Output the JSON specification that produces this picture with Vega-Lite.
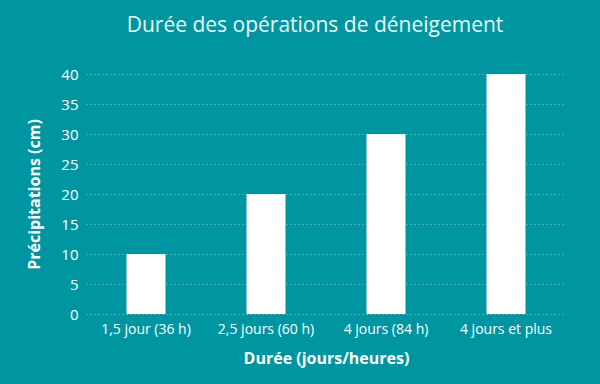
{
  "$schema": "https://vega.github.io/schema/vega-lite/v6.json",
  "width": 480,
  "height": 240,
  "autosize": {"type": "none"},
  "padding": {"left": 86, "top": 74, "right": 34, "bottom": 70},
  "background": "#0096A1",
  "title": {
    "text": "Durée des opérations de déneigement",
    "color": "#EAF6F7",
    "font": "Open Sans",
    "fontSize": 21,
    "fontWeight": "normal",
    "anchor": "middle",
    "offset": 31,
    "dx": -11
  },
  "config": {
    "view": {"stroke": null},
    "font": "Open Sans"
  },
  "data": {
    "values": [
      {"duree": "1,5 jour (36 h)", "precip": 10},
      {"duree": "2,5 jours (60 h)", "precip": 20},
      {"duree": "4 jours (84 h)", "precip": 30},
      {"duree": "4 jours et plus", "precip": 40}
    ]
  },
  "mark": {"type": "bar", "color": "#FFFFFF", "width": 39},
  "encoding": {
    "x": {
      "field": "duree",
      "type": "nominal",
      "sort": null,
      "title": "Durée (jours/heures)",
      "axis": {
        "labelAngle": 0,
        "labelColor": "#FFFFFF",
        "labelFontSize": 14,
        "labelPadding": 8,
        "titleColor": "#FFFFFF",
        "titleFontSize": 16,
        "titleFontWeight": "bold",
        "titlePadding": 14,
        "domain": false,
        "ticks": false,
        "grid": false
      }
    },
    "y": {
      "field": "precip",
      "type": "quantitative",
      "title": "Précipitations (cm)",
      "scale": {"domain": [0, 40]},
      "axis": {
        "values": [0, 5, 10, 15, 20, 25, 30, 35, 40],
        "labelColor": "#FFFFFF",
        "labelFontSize": 15,
        "labelPadding": 8,
        "titleColor": "#FFFFFF",
        "titleFontSize": 16,
        "titleFontWeight": "bold",
        "titlePadding": 18,
        "domain": false,
        "ticks": false,
        "grid": true,
        "gridColor": "#FFFFFF",
        "gridOpacity": 0.5,
        "gridDash": [1, 3],
        "gridWidth": 1
      }
    }
  }
}
